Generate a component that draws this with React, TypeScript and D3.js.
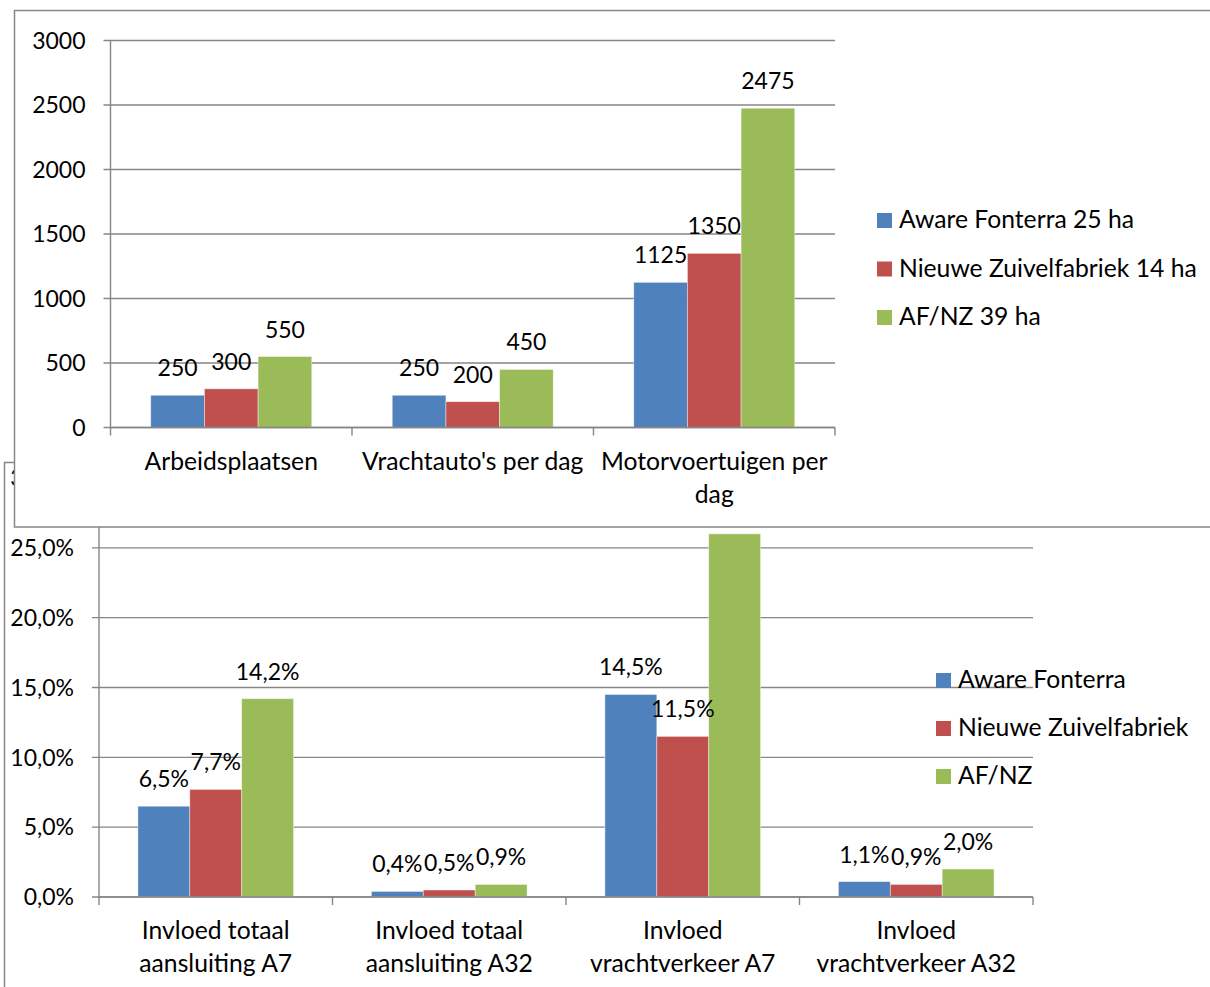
import React, { useEffect, useRef } from 'react';
import * as d3 from 'd3';

const topCategories = [["Arbeidsplaatsen"], ["Vrachtauto's per dag"], ["Motorvoertuigen per", "dag"]];
const topSeriesNames = ["Aware Fonterra 25 ha", "Nieuwe Zuivelfabriek 14 ha", "AF/NZ 39 ha"];
const topAware = [250, 250, 1125];
const topNieuwe = [300, 200, 1350];
const topAfnz = [550, 450, 2475];
const topTicks = [0, 500, 1000, 1500, 2000, 2500, 3000];

const botCategories = [
  ["Invloed totaal", "aansluiting A7"],
  ["Invloed totaal", "aansluiting A32"],
  ["Invloed", "vrachtverkeer A7"],
  ["Invloed", "vrachtverkeer A32"],
];
const botSeriesNames = ["Aware Fonterra", "Nieuwe Zuivelfabriek", "AF/NZ"];
const botAware = [6.5, 0.4, 14.5, 1.1];
const botNieuwe = [7.7, 0.5, 11.5, 0.9];
const botAfnz = [14.2, 0.9, 26.0, 2.0];
const botTicks = [0, 5, 10, 15, 20, 25, 30];

const colors = ["#4F81BD", "#C0504D", "#9BBB59"];
const FONT = "Lato, 'Open Sans', sans-serif";
const GRID = "#868686";
const NUM_SIZE = 23;
const TEXT_SIZE = 24.7;

type ChartCfg = {
  categories: string[][];
  series: number[][];
  names: string[];
  ticks: number[];
  yMax: number;
  x0: number; x1: number; yTop: number; yBottom: number;
  fmt: (v: number) => string;
  labelBaseline: number;
  legendX: number; legendY: number; legendStep: number;
};

function drawChart(svg: d3.Selection<SVGSVGElement, unknown, null, undefined>, c: ChartCfg) {
  const g = svg.append("g").attr("font-family", FONT).attr("font-size", NUM_SIZE).attr("fill", "#000");
  const y = d3.scaleLinear().domain([0, c.yMax]).range([c.yBottom, c.yTop]);
  const x = d3.scaleBand<number>().domain(d3.range(c.categories.length)).range([c.x0, c.x1]).padding(0);
  const inner = d3.scaleBand<number>().domain(d3.range(c.series.length))
    .range([0, x.bandwidth()]).paddingInner(0).paddingOuter(0.75);

  // gridlines + y ticks
  c.ticks.forEach(t => {
    g.append("line").attr("x1", c.x0 - 7).attr("x2", c.x1)
      .attr("y1", y(t)).attr("y2", y(t)).attr("stroke", GRID).attr("stroke-width", 1.4);
    g.append("text").attr("x", c.x0 - 25).attr("y", y(t)).attr("dy", "0.36em")
      .attr("text-anchor", "end").text(c.fmt(t));
  });
  g.append("line").attr("x1", c.x0).attr("x2", c.x0).attr("y1", y(c.yMax)).attr("y2", c.yBottom)
    .attr("stroke", GRID).attr("stroke-width", 1.4);

  // bars
  c.series.forEach((vals, si) => {
    vals.forEach((v, ci) => {
      const bx = x(ci)! + inner(si)!;
      g.append("rect").attr("x", bx).attr("y", y(v)).attr("width", inner.bandwidth())
        .attr("height", c.yBottom - y(v)).attr("fill", colors[si])
        .attr("stroke", "#fff").attr("stroke-opacity", 0.5).attr("stroke-width", 0.8);
    });
  });
  // value labels
  c.series.forEach((vals, si) => {
    vals.forEach((v, ci) => {
      const bx = x(ci)! + inner(si)! + inner.bandwidth() / 2;
      g.append("text").attr("x", bx).attr("y", y(v) - c.labelBaseline)
        .attr("text-anchor", "middle").text(c.fmt(v));
    });
  });

  // x axis + ticks
  g.append("line").attr("x1", c.x0).attr("x2", c.x1).attr("y1", c.yBottom).attr("y2", c.yBottom)
    .attr("stroke", GRID).attr("stroke-width", 1.4);
  d3.range(c.categories.length + 1).forEach(i => {
    const tx = c.x0 + i * x.step();
    g.append("line").attr("x1", tx).attr("x2", tx).attr("y1", c.yBottom).attr("y2", c.yBottom + 8)
      .attr("stroke", GRID).attr("stroke-width", 1.4);
  });
  c.categories.forEach((lines, ci) => {
    const t = g.append("text").attr("text-anchor", "middle").attr("font-size", TEXT_SIZE);
    lines.forEach((ln, li) => {
      t.append("tspan").attr("x", x(ci)! + x.bandwidth() / 2)
        .attr("y", c.yBottom + 42 + li * 33).text(ln);
    });
  });

  // legend
  c.names.forEach((n, i) => {
    const ly = c.legendY + i * c.legendStep;
    g.append("rect").attr("x", c.legendX).attr("y", ly - 15).attr("width", 15).attr("height", 15)
      .attr("fill", colors[i]);
    g.append("text").attr("x", c.legendX + 22).attr("y", ly).attr("font-size", TEXT_SIZE).text(n);
  });
}

const App: React.FC = () => {
  const svgRef = useRef<SVGSVGElement>(null);

  useEffect(() => {
    if (!svgRef.current) return;
    const svg = d3.select(svgRef.current);
    svg.selectAll("*").remove();

    svg.append("rect").attr("width", 1210).attr("height", 987).attr("fill", "#fff");

    // lower panel (behind)
    svg.append("rect").attr("x", 4.5).attr("y", 462.5).attr("width", 1300).attr("height", 700)
      .attr("fill", "#fff").attr("stroke", GRID).attr("stroke-width", 1.5);
    drawChart(svg, {
      categories: botCategories,
      series: [botAware, botNieuwe, botAfnz],
      names: botSeriesNames,
      ticks: botTicks,
      yMax: 30,
      x0: 99, x1: 1033, yTop: 478, yBottom: 897,
      fmt: v => d3.format(".1f")(v).replace(".", ",") + "%",
      labelBaseline: 19,
      legendX: 936, legendY: 688, legendStep: 48,
    });

    // upper panel (front)
    svg.append("rect").attr("x", 14.5).attr("y", 10.5).attr("width", 1300).attr("height", 516.5)
      .attr("fill", "#fff").attr("stroke", GRID).attr("stroke-width", 1.5);
    drawChart(svg, {
      categories: topCategories,
      series: [topAware, topNieuwe, topAfnz],
      names: topSeriesNames,
      ticks: topTicks,
      yMax: 3000,
      x0: 110.5, x1: 835, yTop: 40.5, yBottom: 427.5,
      fmt: v => String(v),
      labelBaseline: 19,
      legendX: 877, legendY: 228, legendStep: 48.5,
    });
  }, []);

  return (
    <svg ref={svgRef} width={1210} height={987}
      style={{ position: 'absolute', left: 0, top: 0, display: 'block' }} />
  );
};

export default App;
